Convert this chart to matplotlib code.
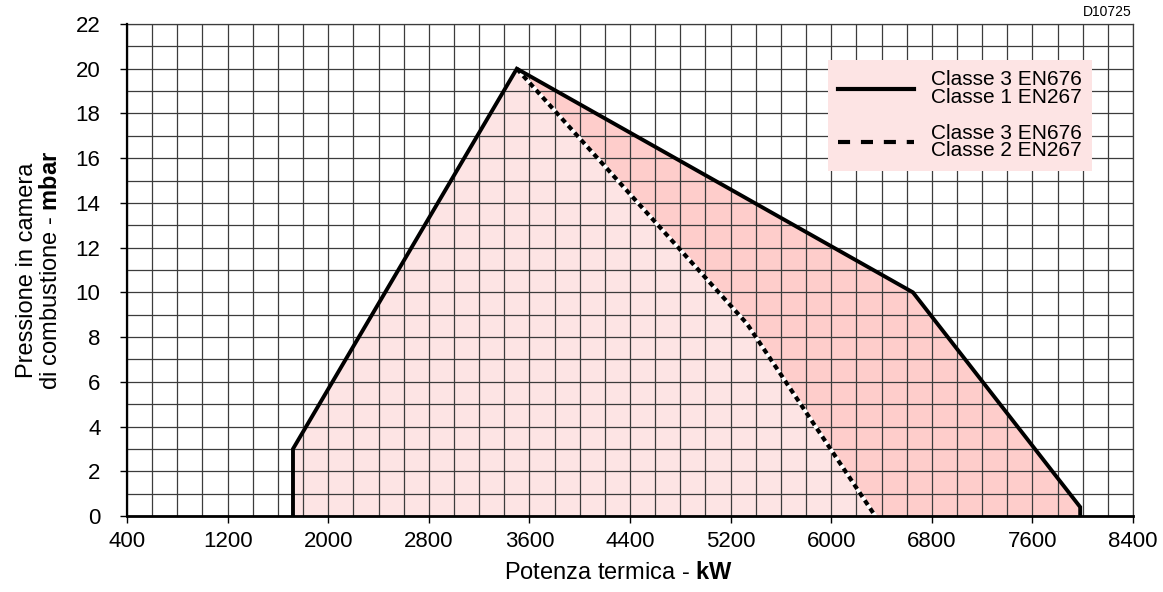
import matplotlib
matplotlib.use("Agg")
import matplotlib.pyplot as plt
from matplotlib.lines import Line2D
from matplotlib.ticker import MultipleLocator

# working field outline (kW, mbar)
solid_x = [1720, 1720, 3500, 6650, 7980, 7980]
solid_y = [0, 3, 20, 10, 0.4, 0]
# reduced field for class 2 EN267
dash_x = [3500, 5330, 6350]
dash_y = [20, 8.6, 0]

x_ticks = list(range(400, 8401, 800))
y_ticks = list(range(0, 23, 2))

legend_labels = ["Classe 3 EN676\nClasse 1 EN267", "Classe 3 EN676\nClasse 2 EN267"]

plt.rcParams["font.family"] = ["Liberation Sans", "DejaVu Sans"]
plt.rcParams["mathtext.fontset"] = "custom"
plt.rcParams["mathtext.rm"] = "Liberation Sans"
plt.rcParams["mathtext.bf"] = "Liberation Sans:bold"

light = "#fde4e4"
dark = "#fecdcb"
grid_col = "#3c3c3c"

fig = plt.figure(figsize=(11.63, 5.92), dpi=100)
ax = fig.add_axes([127 / 1163, 76 / 592, 1006 / 1163, 492 / 592])

# filled areas
light_poly_x = solid_x[:3] + dash_x[1:]
light_poly_y = solid_y[:3] + dash_y[1:]
dark_poly_x = solid_x[2:] + dash_x[::-1][:-1]
dark_poly_y = solid_y[2:] + dash_y[::-1][:-1]
ax.fill(light_poly_x, light_poly_y, color=light, lw=0, zorder=1)
ax.fill(dark_poly_x, dark_poly_y, color=dark, lw=0, zorder=1)

ax.plot(solid_x, solid_y, color="black", lw=2.8, solid_joinstyle="miter", zorder=4)
ax.plot(dash_x, dash_y, color="white", lw=2.8, zorder=3)
ax.plot(dash_x, dash_y, color="black", lw=3.0, dashes=(1.3, 1.0), zorder=3.1)

ax.set_xlim(400, 8400)
ax.set_ylim(0, 22)
ax.set_xticks(x_ticks)
ax.set_yticks(y_ticks)
ax.xaxis.set_minor_locator(MultipleLocator(200))
ax.yaxis.set_minor_locator(MultipleLocator(1))
ax.set_axisbelow(False)
ax.grid(which="both", color=grid_col, lw=0.9)
ax.tick_params(which="minor", length=0)
ax.tick_params(which="major", length=5, width=1, direction="out", labelsize=16)
ax.tick_params(axis="x", pad=6)
ax.tick_params(axis="y", pad=14)

for side in ["top", "right"]:
    ax.spines[side].set_color(grid_col)
    ax.spines[side].set_linewidth(0.9)
ax.spines["left"].set_linewidth(1.6)
ax.spines["bottom"].set_linewidth(2.0)
ax.spines["left"].set_zorder(5)
ax.spines["bottom"].set_zorder(5)

ax.set_xlabel(r"Potenza termica - $\mathbf{kW}$", fontsize=17)
ax.xaxis.set_label_coords(0.489, -0.093)
ax.set_ylabel("Pressione in camera\n" + r"di combustione - $\mathbf{mbar}$",
              fontsize=17, linespacing=1.1)
ax.yaxis.set_label_coords(-0.065, 0.5)

handles = [Line2D([], [], color="black", lw=3),
           Line2D([], [], color="black", lw=3, dashes=(2.9, 2.6))]
leg = ax.legend(handles, legend_labels, loc="upper right",
                bbox_to_anchor=(1092 / 1163, 532 / 592), bbox_transform=fig.transFigure,
                fontsize=15, frameon=True, fancybox=False, facecolor=light,
                edgecolor="none", framealpha=1, handlelength=3.65, handletextpad=0.8,
                borderpad=0.5, labelspacing=0.8, borderaxespad=0)
leg.set_zorder(6)
for t in leg.get_texts():
    t.set_linespacing(0.9)

fig.text(1132 / 1163, 580 / 592, "D10725", fontsize=10, ha="right", va="center")

fig.savefig("out.png", dpi=100)
